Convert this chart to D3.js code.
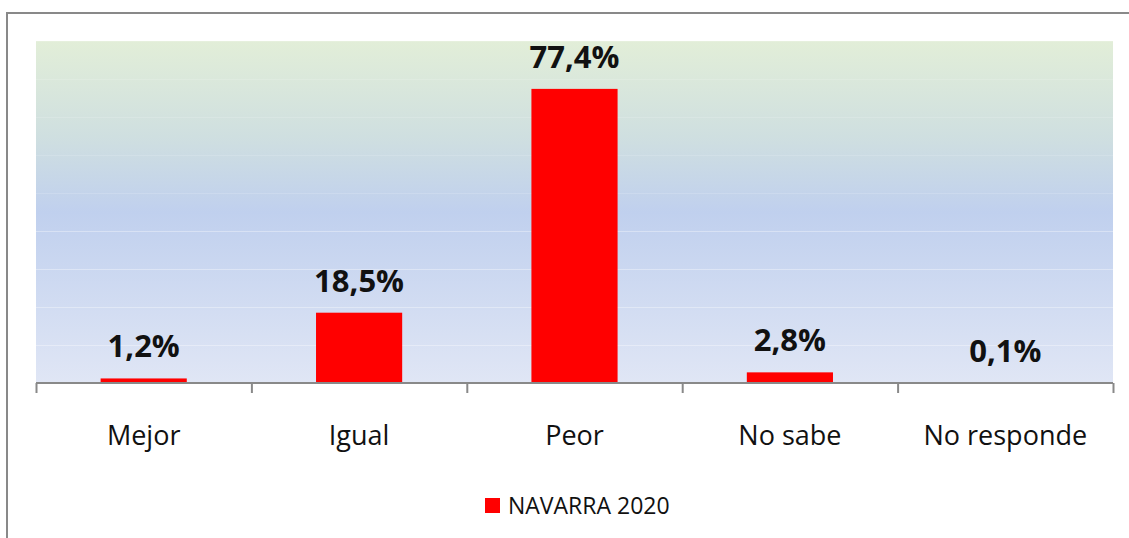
<!DOCTYPE html>
<html>
<head>
<meta charset="utf-8">
<script src="https://cdnjs.cloudflare.com/ajax/libs/d3/7.8.5/d3.min.js"></script>
<style>
  body { margin: 0; background: #fff; }
  svg { display: block; }
</style>
</head>
<body>
<div id="chart"></div>
<script>
// Data
var categories = ["Mejor", "Igual", "Peor", "No sabe", "No responde"];
var values = [1.2, 18.5, 77.4, 2.8, 0.1];
var seriesName = "NAVARRA 2020";
var gridTicks = [10, 20, 30, 40, 50, 60, 70, 80, 90];

var svgWidth = 1129;
var svgHeight = 538;

var margin = { top: 41, left: 36, right: 16, bottom: 155 };
var width = svgWidth - margin.left - margin.right;
var height = svgHeight - margin.top - margin.bottom;

var svg = d3.select("#chart")
    .append("svg")
    .attr("width", svgWidth)
    .attr("height", svgHeight);

// Plot area gradient
var defs = svg.append("defs");
var grad = defs.append("linearGradient")
    .attr("id", "plotBg")
    .attr("x1", 0).attr("y1", 0).attr("x2", 0).attr("y2", 1);
grad.append("stop").attr("offset", "0%").attr("stop-color", "#e2eed8");
grad.append("stop").attr("offset", "28%").attr("stop-color", "#cfdfe0");
grad.append("stop").attr("offset", "50%").attr("stop-color", "#c0d0ee");
grad.append("stop").attr("offset", "100%").attr("stop-color", "#e0e6f5");

// Outer border (top and left only visible)
svg.append("line")
    .attr("x1", 7).attr("x2", svgWidth)
    .attr("y1", 13).attr("y2", 13)
    .attr("stroke", "#898989").attr("stroke-width", 2);
svg.append("line")
    .attr("x1", 7).attr("x2", 7)
    .attr("y1", 12).attr("y2", svgHeight)
    .attr("stroke", "#898989").attr("stroke-width", 2);

var chartGroup = svg.append("g")
    .attr("transform", `translate(${margin.left}, ${margin.top})`);

chartGroup.append("rect")
    .attr("width", width)
    .attr("height", height)
    .attr("fill", "url(#plotBg)");

// Scales
var xScale = d3.scaleBand()
    .domain(categories)
    .range([0, width])
    .paddingInner(0.6)
    .paddingOuter(0.3);

var yScale = d3.scaleLinear()
    .domain([0, 90])
    .range([height, 0]);

// Gridlines (faint, fading out toward the top like the original)
chartGroup.selectAll(".grid")
    .data(gridTicks)
    .enter()
    .append("line")
    .attr("x1", 0).attr("x2", width)
    .attr("y1", d => Math.round(yScale(d)) + 0.5)
    .attr("y2", d => Math.round(yScale(d)) + 0.5)
    .attr("stroke", "#ffffff")
    .attr("stroke-opacity", d => d <= 40 ? 0.35 : 0.15)
    .attr("stroke-width", 1);

// Bars
chartGroup.selectAll(".bar")
    .data(values)
    .enter()
    .append("rect")
    .attr("x", (d, i) => xScale(categories[i]))
    .attr("y", d => yScale(d))
    .attr("width", xScale.bandwidth())
    .attr("height", d => height - yScale(d))
    .attr("fill", "#ff0000");

// Value labels
chartGroup.selectAll(".val")
    .data(values)
    .enter()
    .append("text")
    .attr("x", (d, i) => xScale(categories[i]) + xScale.bandwidth() / 2)
    .attr("y", d => yScale(d) - 21)
    .attr("text-anchor", "middle")
    .style("font-family", "'Open Sans', 'Noto Sans', sans-serif")
    .style("font-weight", "bold")
    .style("font-size", "31px")
    .attr("fill", "#111")
    .text(d => d.toFixed(1).replace(".", ",") + "%");

// X axis with ticks at category boundaries
var step = width / categories.length;
var boundaries = d3.range(categories.length + 1).map(i => i * step);

var axisG = chartGroup.append("g")
    .attr("transform", `translate(0, ${height})`);
axisG.append("line")
    .attr("x1", 0).attr("x2", width)
    .attr("y1", 0).attr("y2", 0)
    .attr("stroke", "#898989").attr("stroke-width", 2);
axisG.selectAll(".tick")
    .data(boundaries)
    .enter()
    .append("line")
    .attr("x1", d => d + 0.5).attr("x2", d => d + 0.5)
    .attr("y1", 0).attr("y2", 10)
    .attr("stroke", "#898989").attr("stroke-width", 2);

axisG.selectAll(".cat")
    .data(categories)
    .enter()
    .append("text")
    .attr("x", d => xScale(d) + xScale.bandwidth() / 2)
    .attr("y", 62)
    .attr("text-anchor", "middle")
    .style("font-family", "'Open Sans', 'Noto Sans', sans-serif")
    .style("font-size", "27px")
    .attr("fill", "#111")
    .text(d => d);

// Legend
var legend = svg.append("g")
    .attr("transform", "translate(485, 498)");
legend.append("rect")
    .attr("width", 15).attr("height", 15)
    .attr("fill", "#ff0000");
legend.append("text")
    .attr("x", 23)
    .attr("y", 16)
    .style("font-family", "'Open Sans', 'Noto Sans', sans-serif")
    .style("font-size", "23px")
    .attr("fill", "#111")
    .text(seriesName);
</script>
</body>
</html>
